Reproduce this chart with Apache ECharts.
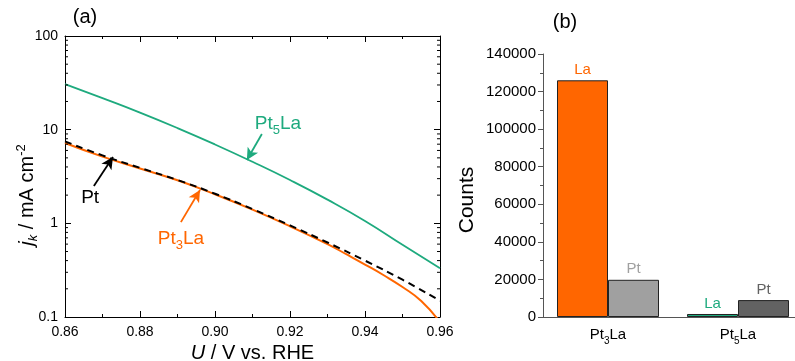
<!DOCTYPE html>
<html><head><meta charset="utf-8">
<script src="https://cdn.jsdelivr.net/npm/echarts@6/dist/echarts.min.js"></script>
<style>html,body{margin:0;padding:0;background:#fff}#c{width:795px;height:361px}</style>
</head><body><div id="c"></div>
<script>
// ---- data (a) ----
const uGrid = [0.86,0.87,0.88,0.89,0.90,0.91,0.92,0.93,0.94,0.95,0.96];
const jkPt5La = [30.7,21.7,15.2,10.4,6.95,4.54,2.90,1.79,1.06,0.59,0.331];
const jkPt = [7.5,5.31,3.91,2.90,2.07,1.42,0.95,0.624,0.40,0.25,0.149];
const uPt3La = [0.86,0.87,0.88,0.89,0.90,0.91,0.92,0.93,0.935,0.94,0.945,0.95,0.955,0.96];
const jkPt3La = [7.2,5.15,3.85,2.88,2.04,1.40,0.93,0.60,0.468,0.363,0.279,0.209,0.148,0.088];
const xTicks = [0.86,0.88,0.90,0.92,0.94,0.96];
const yTicks = [0.1,1,10,100];
// ---- data (b) ----
const samples = ['Pt3La','Pt5La'];
const countsLa = [126000,1600];
const countsPt = [19800,9000];

const ORANGE='#FF6600', GREEN='#1EAA7E', LGRAY='#A0A0A0', DGRAY='#626262';
const FONT='Liberation Sans, Arial, sans-serif';
const pair=(xs,ys)=>xs.map((x,i)=>[x,ys[i]]);
const subFmt = s => s.replace(/(\d)/,'{sub|$1}');
// minor log ticks 2..9 in each decade
const logMinor = [];
yTicks.slice(0,-1).forEach(d=>{for(let k=2;k<=9;k++) logMinor.push(+(d*k).toPrecision(3));});

const chart = echarts.init(document.getElementById('c'));
const axisBase = {
  axisLine:{show:true,lineStyle:{color:'#000',width:1}},
  splitLine:{show:false}
};
chart.setOption({
  animation:false,
  textStyle:{fontFamily:FONT},
  grid:[
    {left:65,top:36,width:375,height:281,outerBoundsMode:'none',containLabel:false},
    {left:543,top:54,width:260,height:263,outerBoundsMode:'none',containLabel:false}
  ],
  xAxis:[
    Object.assign({type:'value',gridIndex:0,min:0.86,max:0.96,interval:0.02,
      axisTick:{inside:true,length:6},
      minorTick:{show:true,splitNumber:2,length:3,lineStyle:{color:'#000'}},
      axisLabel:{fontSize:14,color:'#000',margin:8,formatter:v=>v.toFixed(2)},
      name:'{it|U} / V vs. RHE',nameLocation:'middle',nameGap:24,
      nameTextStyle:{fontSize:20,color:'#000',rich:{it:{fontSize:20,fontStyle:'italic',color:'#000'}}}
    },axisBase),
    Object.assign({type:'value',gridIndex:0,position:'top',min:0.86,max:0.96,interval:0.02,
      axisTick:{inside:true,length:6},
      minorTick:{show:true,splitNumber:2,length:3,lineStyle:{color:'#000'}},
      axisLabel:{show:false}},axisBase),
    {type:'category',gridIndex:1,data:samples,
      axisLine:{lineStyle:{color:'#555'}},
      axisTick:{alignWithLabel:true,length:5,lineStyle:{color:'#555'}},
      axisLabel:{fontSize:15,color:'#000',margin:7,formatter:subFmt,
        rich:{sub:{fontSize:10,padding:[12,0,0,0],color:'#000'}}}
    }
  ],
  yAxis:[
    Object.assign({type:'log',gridIndex:0,logBase:10,min:0.1,max:100,
      axisTick:{inside:true,length:6},
      axisLabel:{fontSize:14,color:'#000',margin:7,formatter:v=>String(+v.toPrecision(3))}
    },axisBase),
    Object.assign({type:'log',gridIndex:0,logBase:10,min:0.1,max:100,position:'right',
      axisTick:{inside:true,length:6},
      axisLabel:{show:false}},axisBase),
    {type:'value',gridIndex:1,min:0,max:140000,interval:20000,
      axisLine:{show:true,lineStyle:{color:'#555'}},
      axisTick:{show:true,length:5,lineStyle:{color:'#555'}},
      minorTick:{show:true,splitNumber:2,length:3,lineStyle:{color:'#555'}},
      splitLine:{show:false},
      axisLabel:{fontSize:15,color:'#000',margin:7,formatter:v=>String(v)}
    }
  ],
  graphic:[
    {type:'text',x:85,y:17,style:{text:'(a)',font:'20px '+FONT,fill:'#000',align:'center',verticalAlign:'middle'}},
    {type:'text',x:565,y:22,style:{text:'(b)',font:'20px '+FONT,fill:'#000',align:'center',verticalAlign:'middle'}},
    {type:'text',x:27,y:195,rotation:Math.PI/2,style:{text:'{it|j}{sub|k} / mA cm{sup|-2}',font:'20px '+FONT,fill:'#000',align:'center',verticalAlign:'middle',
      rich:{it:{fontSize:20,fontStyle:'italic',fontFamily:FONT},sub:{fontSize:13,fontStyle:'italic',padding:[12,0,0,0],fontFamily:FONT},sup:{fontSize:13,padding:[0,0,12,0],fontFamily:FONT}}}},
    {type:'text',x:467,y:200,rotation:Math.PI/2,style:{text:'Counts',font:'21px '+FONT,fill:'#000',align:'center',verticalAlign:'middle'}}
  ],
  series:[
    {type:'custom',xAxisIndex:0,yAxisIndex:0,silent:true,clip:false,z:5,
      data:logMinor.map(v=>[v]),
      renderItem:(params,api)=>{
        const v=api.value(0);
        const l=api.coord([0.86,v]), r=api.coord([0.96,v]);
        return {type:'group',children:[
          {type:'line',shape:{x1:l[0],y1:l[1],x2:l[0]+3,y2:l[1]},style:{stroke:'#000',lineWidth:1}},
          {type:'line',shape:{x1:r[0],y1:r[1],x2:r[0]-3,y2:r[1]},style:{stroke:'#000',lineWidth:1}}
        ]};
      }
    },
    {type:'line',xAxisIndex:0,yAxisIndex:0,data:pair(uGrid,jkPt5La),smooth:true,symbol:'none',
      lineStyle:{color:GREEN,width:1.8},
      markLine:{silent:true,symbol:['none','arrow'],symbolSize:[9,12],lineStyle:{color:GREEN,width:1.8,type:'solid'},label:{show:false},
        data:[[{coord:[0.9125,8.99]},{coord:[0.9085,4.74]}]]},
      markPoint:{symbol:'circle',symbolSize:0,data:[{coord:[0.9168,11.5],label:{show:true,formatter:'Pt{sub|5}La',fontSize:19,color:GREEN,
        rich:{sub:{fontSize:13,padding:[12,0,0,0],color:GREEN}}}}]}
    },
    {type:'line',xAxisIndex:0,yAxisIndex:0,data:pair(uPt3La,jkPt3La),smooth:true,clip:true,symbol:'none',
      lineStyle:{color:ORANGE,width:2},
      markLine:{silent:true,symbol:['none','arrow'],symbolSize:[9,12],lineStyle:{color:ORANGE,width:1.8,type:'solid'},label:{show:false},
        data:[[{coord:[0.8909,1.03]},{coord:[0.896,2.27]}]]},
      markPoint:{symbol:'circle',symbolSize:0,data:[{coord:[0.8909,0.681],label:{show:true,formatter:'Pt{sub|3}La',fontSize:19,color:ORANGE,
        rich:{sub:{fontSize:13,padding:[12,0,0,0],color:ORANGE}}}}]}
    },
    {type:'line',xAxisIndex:0,yAxisIndex:0,data:pair(uGrid,jkPt),smooth:true,symbol:'none',
      lineStyle:{color:'#000',width:2,type:[7,5]},
      markLine:{silent:true,symbol:['none','arrow'],symbolSize:[9,12],lineStyle:{color:'#000',width:1.8,type:'solid'},label:{show:false},
        data:[[{coord:[0.8677,2.50]},{coord:[0.8728,5.11]}]]},
      markPoint:{symbol:'circle',symbolSize:0,data:[{coord:[0.8667,1.86],label:{show:true,formatter:'Pt',fontSize:19,color:'#000'}}]}
    },
    {type:'bar',name:'La',xAxisIndex:2,yAxisIndex:2,barWidth:51,barGap:'0%',
      data:countsLa.map((v,i)=>({value:v,itemStyle:{color:[ORANGE,GREEN][i]},label:{color:[ORANGE,GREEN][i]}})),
      itemStyle:{borderColor:'#222',borderWidth:1},
      label:{show:true,position:'top',formatter:'La',fontSize:15,distance:3}
    },
    {type:'bar',name:'Pt',xAxisIndex:2,yAxisIndex:2,barWidth:51,barGap:'0%',
      data:countsPt.map((v,i)=>({value:v,itemStyle:{color:[LGRAY,DGRAY][i]},label:{color:[LGRAY,DGRAY][i]}})),
      itemStyle:{borderColor:'#222',borderWidth:1},
      label:{show:true,position:'top',formatter:'Pt',fontSize:15,distance:3}
    }
  ]
});
</script></body></html>
